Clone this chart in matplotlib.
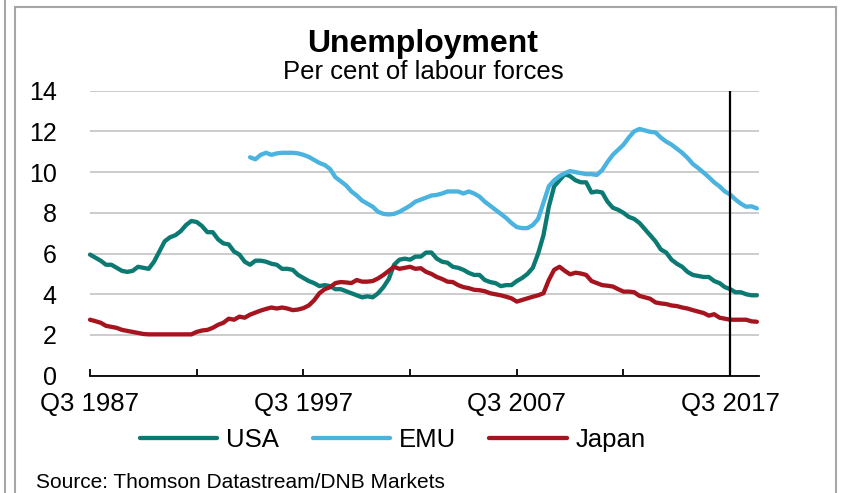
import matplotlib.pyplot as plt
from matplotlib.lines import Line2D
from matplotlib.patches import Rectangle

plt.rcParams['font.family'] = ['Liberation Sans', 'DejaVu Sans']

# quarterly series, Q3 1987 .. Q4 2018
start_year, start_q = 1987, 3

usa = [5.95, 5.8, 5.65, 5.45, 5.45, 5.3, 5.15, 5.1, 5.15, 5.35,
       5.3, 5.25, 5.6, 6.1, 6.6, 6.8, 6.9, 7.1, 7.4, 7.6,
       7.55, 7.35, 7.05, 7.05, 6.7, 6.5, 6.45, 6.1, 5.95, 5.6,
       5.45, 5.65, 5.65, 5.6, 5.5, 5.45, 5.25, 5.25, 5.2, 4.95,
       4.8, 4.65, 4.55, 4.4, 4.45, 4.4, 4.25, 4.25, 4.15, 4.05,
       3.95, 3.85, 3.9, 3.85, 4.05, 4.35, 4.75, 5.45, 5.7, 5.75,
       5.7, 5.85, 5.85, 6.05, 6.05, 5.75, 5.6, 5.55, 5.35, 5.3,
       5.2, 5.05, 4.95, 4.95, 4.7, 4.6, 4.55, 4.4, 4.45, 4.45,
       4.65, 4.8, 5.0, 5.3, 6.0, 6.9, 8.3, 9.3, 9.6, 9.9,
       9.8, 9.6, 9.5, 9.5, 9.0, 9.05, 9.0, 8.55, 8.25, 8.15,
       8.0, 7.8, 7.7, 7.5, 7.2, 6.9, 6.6, 6.2, 6.05, 5.7,
       5.5, 5.35, 5.1, 4.95, 4.9, 4.85, 4.85, 4.65, 4.55, 4.35,
       4.25, 4.1, 4.1, 4.0, 3.95, 3.95]

# euro area figures begin in Q1 1995
emu_offset = 30
emu = [10.73, 10.63, 10.85, 10.95, 10.85, 10.92, 10.95, 10.95, 10.95, 10.92,
       10.85, 10.75, 10.6, 10.45, 10.35, 10.15, 9.75, 9.55, 9.35, 9.05,
       8.85, 8.6, 8.45, 8.3, 8.05, 7.95, 7.92, 7.95, 8.05, 8.2,
       8.35, 8.55, 8.65, 8.75, 8.85, 8.88, 8.95, 9.05, 9.05, 9.05,
       8.95, 9.05, 8.95, 8.8, 8.55, 8.35, 8.15, 7.95, 7.75, 7.5,
       7.3, 7.25, 7.25, 7.4, 7.7, 8.5, 9.3, 9.6, 9.8, 9.95,
       10.05, 10.0, 9.95, 9.9, 9.9, 9.86, 10.1, 10.5, 10.85, 11.1,
       11.35, 11.7, 12.0, 12.12, 12.05, 11.98, 11.95, 11.7, 11.5, 11.35,
       11.15, 10.95, 10.7, 10.4, 10.2, 9.98, 9.75, 9.5, 9.3, 9.05,
       8.9, 8.65, 8.45, 8.3, 8.32, 8.22]

japan = [2.75, 2.68, 2.6, 2.45, 2.4, 2.35, 2.25, 2.2, 2.15, 2.1,
         2.05, 2.03, 2.03, 2.03, 2.03, 2.03, 2.03, 2.03, 2.03, 2.03,
         2.15, 2.22, 2.25, 2.35, 2.5, 2.6, 2.8, 2.75, 2.9, 2.85,
         3.0, 3.1, 3.2, 3.28, 3.35, 3.3, 3.35, 3.3, 3.22, 3.25,
         3.32, 3.45, 3.7, 4.05, 4.25, 4.35, 4.55, 4.6, 4.58, 4.55,
         4.7, 4.62, 4.62, 4.65, 4.78, 4.95, 5.15, 5.35, 5.25, 5.3,
         5.35, 5.25, 5.28, 5.1, 5.0, 4.85, 4.75, 4.62, 4.6, 4.45,
         4.35, 4.3, 4.22, 4.2, 4.15, 4.05, 4.0, 3.95, 3.88, 3.8,
         3.64, 3.72, 3.8, 3.88, 3.95, 4.05, 4.7, 5.2, 5.35, 5.15,
         4.98, 5.06, 5.02, 4.95, 4.65, 4.55, 4.45, 4.42, 4.38, 4.25,
         4.13, 4.13, 4.1, 3.92, 3.85, 3.78, 3.6, 3.55, 3.52, 3.45,
         3.42, 3.35, 3.3, 3.22, 3.15, 3.08, 2.95, 3.02, 2.85, 2.8,
         2.75, 2.75, 2.75, 2.75, 2.67, 2.65]

series_names = ['USA', 'EMU', 'Japan']
series_colors = ['#0B7A72', '#4AB3E0', '#A5141F']
marker_quarter = 120  # Q3 2017

quarters = []
y, q = start_year, start_q
for _ in usa:
    quarters.append(f'Q{q} {y}')
    q += 1
    if q > 4:
        q, y = 1, y + 1

fig = plt.figure(figsize=(8.41, 4.93), dpi=100)

# outer frame
fig.add_artist(Line2D([4.5 / 841, 4.5 / 841], [0, 1], color='#A6A6A6', lw=1.5))
fig.add_artist(Rectangle((15 / 841, -0.1), (836 - 15) / 841, 1.1 - 7 / 493,
                         fill=False, edgecolor='#A6A6A6', lw=1.5))

ax = fig.add_axes([90 / 841, 117.3 / 493, 669 / 841, 285 / 493])

x = list(range(len(usa)))
ax.plot(x, usa, color=series_colors[0], lw=3.1, solid_capstyle='round',
        solid_joinstyle='round', label=series_names[0], clip_on=False)
ax.plot(list(range(emu_offset, emu_offset + len(emu))), emu, color=series_colors[1],
        lw=3.1, solid_capstyle='round', solid_joinstyle='round',
        label=series_names[1], clip_on=False)
ax.plot(x, japan, color=series_colors[2], lw=3.1, solid_capstyle='round',
        solid_joinstyle='round', label=series_names[2], clip_on=False)

ax.axvline(marker_quarter, color='black', lw=1.6, zorder=5)

ax.set_xlim(0, len(usa) - 0.6)
ax.set_ylim(0, 14)
ax.set_yticks(range(0, 15, 2))
ax.yaxis.grid(True, color='#C8C8C8', lw=1.3)
ax.set_axisbelow(True)

ticks = list(range(0, len(usa), 20))
ax.set_xticks(ticks)
ax.set_xticklabels([quarters[t] if t % 40 == 0 else '' for t in ticks])

for side in ['top', 'right', 'left']:
    ax.spines[side].set_visible(False)
ax.spines['bottom'].set_linewidth(1.3)
ax.tick_params(axis='x', direction='in', length=5, width=1.3, pad=12, labelsize=18.5)
ax.tick_params(axis='y', length=0, pad=24, labelsize=18)

fig.text(0.503, 1 - 44 / 493, 'Unemployment', ha='center', va='center',
         fontsize=23, fontweight='bold')
fig.text(0.503, 1 - 72 / 493, 'Per cent of labour forces', ha='center', va='center',
         fontsize=18.5)

handles, labels = ax.get_legend_handles_labels()
fig.legend(handles, labels, loc='center', bbox_to_anchor=(393 / 841, 1 - 440 / 493),
           ncol=3, frameon=False, fontsize=18.5, handlelength=3.0,
           handletextpad=0.35, columnspacing=1.3)

fig.text(36 / 841, 1 - 482 / 493, 'Source: Thomson Datastream/DNB Markets',
         ha='left', va='center', fontsize=15)

fig.savefig('out.png', dpi=100)
